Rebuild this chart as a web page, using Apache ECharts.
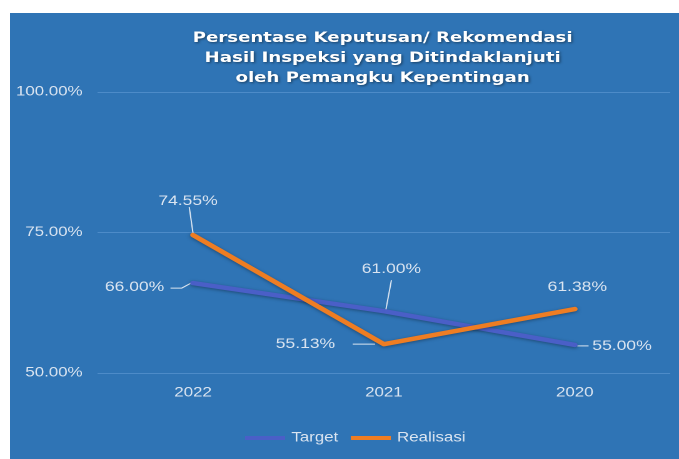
<!DOCTYPE html>
<html>
<head>
<meta charset="utf-8">
<script src="https://cdn.jsdelivr.net/npm/echarts@6/dist/echarts.min.js"></script>
<style>
  html, body { margin: 0; padding: 0; background: #ffffff; width: 679px; height: 459px; overflow: hidden; }
  #chart { position: absolute; left: 10px; top: 13px; width: 535px; height: 446px; transform: scaleX(1.2505); transform-origin: 0 0; }
</style>
</head>
<body>
<div id="chart"></div>
<script>
// ---- data ----
const categories = ['2022', '2021', '2020'];
const targetValues = [66.00, 61.00, 55.00];
const realisasiValues = [74.55, 55.13, 61.38];
const seriesNames = ['Target', 'Realisasi'];
const yTicks = { min: 50, max: 100, interval: 25 };
const titleText = 'Persentase Keputusan/ Rekomendasi\nHasil Inspeksi yang Ditindaklanjuti\noleh Pemangku Kepentingan';

// ---- styling ----
const BG = '#2f74b5';
const TXT = '#dbe5f1';
const TARGET_COLOR = '#4a5fc7';
const REAL_COLOR = '#ee7d23';
const FONT = 'Liberation Sans, Arial, sans-serif';

// label placement + leader line shape (pixel offsets relative to the data point)
const targetLabelCfg = [
  { position: 'left', distance: 22, offset: [0, 4], leader: [[-18, 5], [-9, 5], [-1.5, 0]] },
  { position: 'top', distance: 34, offset: [6, 0], leader: [[6, -31], [1.5, -1]] },
  { position: 'right', distance: 13, offset: [0, 1], leader: [[2, 1], [11, 1]] }
];
const realLabelCfg = [
  { position: 'top', distance: 26, offset: [-4, 0], leader: [[-3, -28], [0, -2]] },
  { position: 'left', distance: 38, offset: [0, 0], leader: [[-25, 0], [-7, 0]] },
  { position: 'top', distance: 14, offset: [2, 0], leader: null }
];

function buildData(values, cfg) {
  return values.map((v, i) => ({
    value: v,
    label: { position: cfg[i].position, distance: cfg[i].distance, offset: cfg[i].offset }
  }));
}

const leaderShapes = [];
const leaderData = [];
[[targetValues, targetLabelCfg], [realisasiValues, realLabelCfg]].forEach(([vals, cfg]) => {
  vals.forEach((v, i) => {
    if (cfg[i].leader) {
      leaderData.push([i, v, leaderShapes.length]);
      leaderShapes.push(cfg[i].leader);
    }
  });
});

function lineSeries(name, values, cfg, color) {
  return {
    name: name,
    type: 'line',
    data: buildData(values, cfg),
    symbol: 'circle',
    symbolSize: 2,
    showSymbol: true,
    itemStyle: { color: color },
    lineStyle: { color: color, width: 4.5, cap: 'round', join: 'round',
      shadowColor: 'rgba(0,0,0,0.35)', shadowBlur: 3, shadowOffsetY: 1 },
    label: {
      show: true,
      color: TXT,
      fontFamily: FONT,
      fontSize: 14,
      formatter: p => p.value.toFixed(2) + '%'
    },
    emphasis: { disabled: true },
    animation: false
  };
}

const chart = echarts.init(document.getElementById('chart'), null, { devicePixelRatio: 2 });
chart.setOption({
  backgroundColor: BG,
  animation: false,
  title: {
    text: titleText,
    left: 298,
    top: 15,
    padding: 0,
    textAlign: 'center',
    textStyle: {
      color: '#ffffff',
      fontFamily: 'DejaVu Sans, sans-serif',
      fontWeight: 'bold',
      fontSize: 14.5,
      lineHeight: 20,
      textShadowColor: 'rgba(0,0,0,0.45)',
      textShadowBlur: 2,
      textShadowOffsetX: 1,
      textShadowOffsetY: 1
    }
  },
  legend: {
    data: seriesNames,
    left: 188,
    top: 418,
    padding: 0,
    itemWidth: 32,
    itemHeight: 4,
    itemGap: 10,
    icon: 'rect',
    textStyle: { color: TXT, fontFamily: FONT, fontSize: 13.5 }
  },
  grid: { left: 70, right: 7, top: 79, bottom: 86, containLabel: false },
  xAxis: {
    type: 'category',
    data: categories,
    boundaryGap: true,
    axisLine: { show: false },
    axisTick: { show: false },
    axisLabel: { color: TXT, fontFamily: FONT, fontSize: 13.5, margin: 13 },
    splitLine: { show: false }
  },
  yAxis: {
    type: 'value',
    min: yTicks.min,
    max: yTicks.max,
    interval: yTicks.interval,
    axisLine: { show: false },
    axisTick: { show: false },
    axisLabel: { color: TXT, fontFamily: FONT, fontSize: 13.5, margin: 12,
      formatter: v => v.toFixed(2) + '%' },
    splitLine: { lineStyle: { color: '#4d8bc8', width: 1 } }
  },
  series: [
    lineSeries(seriesNames[0], targetValues, targetLabelCfg, TARGET_COLOR),
    lineSeries(seriesNames[1], realisasiValues, realLabelCfg, REAL_COLOR),
    {
      type: 'custom',
      name: 'leaders',
      coordinateSystem: 'cartesian2d',
      data: leaderData,
      silent: true,
      animation: false,
      z: 3,
      renderItem: (params, api) => {
        const p = api.coord([api.value(0), api.value(1)]);
        const pts = leaderShapes[api.value(2)].map(o => [p[0] + o[0], p[1] + o[1]]);
        return { type: 'polyline', shape: { points: pts },
          style: { stroke: TXT, lineWidth: 1, fill: null } };
      }
    }
  ]
});
</script>
</body>
</html>
